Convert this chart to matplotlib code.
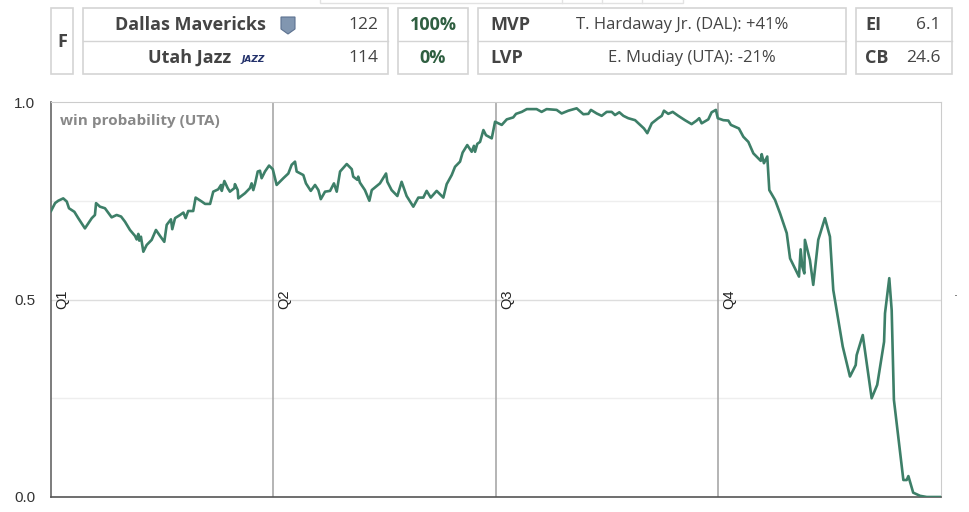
import matplotlib.pyplot as plt
from matplotlib.patches import Rectangle, Polygon

# game clock in minutes (0-48) and win probability for UTA
minutes = [0, 0.22, 0.39, 0.66, 0.85, 0.97, 1.26, 1.47, 1.83, 2.20, 2.37, 2.43, 2.64, 2.91,
           3.27, 3.54, 3.78, 3.99, 4.26, 4.53, 4.62, 4.71, 4.76, 4.85, 4.98, 5.16, 5.43,
           5.66, 5.88, 6.11, 6.24, 6.47, 6.54, 6.69, 6.96, 7.14, 7.26, 7.40, 7.67, 7.80,
           8.13, 8.31, 8.58, 8.75, 9.02, 9.17, 9.21, 9.35, 9.53, 9.65, 9.89, 9.92, 10.07,
           10.10, 10.46, 10.73, 10.82, 10.91, 11.00, 11.15, 11.27, 11.36, 11.54, 11.76, 11.96,
           12.17, 12.53, 12.80, 12.98, 13.16, 13.25, 13.61, 13.75, 14.01, 14.24, 14.42, 14.55,
           14.78, 15.05, 15.26, 15.41, 15.59, 15.95, 16.22, 16.30, 16.52, 16.57, 16.66, 16.93,
           17.17, 17.30, 17.74, 18.07, 18.14, 18.37, 18.68, 18.91, 19.18, 19.54, 19.81, 20.08,
           20.26, 20.48, 20.80, 21.16, 21.34, 21.61, 21.79, 22.06, 22.20, 22.45, 22.69, 22.81,
           22.87, 22.99, 23.14, 23.32, 23.46, 23.77,
           23.95, 24.31, 24.58, 24.93, 25.08, 25.39, 25.66, 26.19, 26.46, 26.73, 27.27, 27.54,
           27.90, 28.35, 28.71, 28.98, 29.12, 29.43, 29.70, 29.97, 30.24, 30.42, 30.65, 30.87,
           31.13, 31.50, 31.77, 31.98, 32.16, 32.40, 32.75, 32.94, 33.06, 33.29, 33.53, 33.83,
           34.19, 34.55, 34.82, 34.96, 35.09, 35.45, 35.63, 35.86,
           35.96, 36.26, 36.53, 36.67, 37.10, 37.34, 37.61, 37.88, 38.15, 38.28, 38.33, 38.45,
           38.63, 38.74, 39.05, 39.32, 39.68, 39.86, 40.34, 40.43, 40.52, 40.63, 40.66, 40.93,
           41.11, 41.38, 41.74, 42.01, 42.19, 42.70, 43.09, 43.40, 43.45, 43.78, 44.26, 44.56,
           44.93, 44.98, 45.21, 45.34, 45.46, 45.97, 46.15, 46.24, 46.50, 46.87, 47.23, 48.0]
win_prob = [0.724, 0.744, 0.750, 0.756, 0.748, 0.731, 0.722, 0.706, 0.680, 0.706, 0.714, 0.744,
            0.735, 0.731, 0.708, 0.714, 0.710, 0.697, 0.676, 0.661, 0.652, 0.666, 0.649, 0.659,
            0.621, 0.638, 0.651, 0.676, 0.661, 0.646, 0.689, 0.703, 0.678, 0.706, 0.714, 0.720,
            0.706, 0.724, 0.724, 0.758, 0.748, 0.742, 0.742, 0.773, 0.779, 0.790, 0.775, 0.800,
            0.782, 0.773, 0.782, 0.792, 0.777, 0.756, 0.769, 0.782, 0.794, 0.777, 0.792, 0.824,
            0.826, 0.807, 0.824, 0.839, 0.830,
            0.790, 0.807, 0.819, 0.841, 0.849, 0.824, 0.815, 0.794, 0.775, 0.790, 0.777, 0.754,
            0.773, 0.775, 0.794, 0.773, 0.824, 0.843, 0.830, 0.811, 0.803, 0.811, 0.796, 0.777,
            0.750, 0.777, 0.794, 0.819, 0.798, 0.777, 0.762, 0.798, 0.762, 0.735, 0.758, 0.758,
            0.775, 0.758, 0.775, 0.758, 0.792, 0.815, 0.836, 0.849, 0.872, 0.891, 0.874, 0.889,
            0.874, 0.894, 0.899, 0.929, 0.916, 0.908,
            0.950, 0.942, 0.956, 0.961, 0.970, 0.975, 0.982, 0.982, 0.975, 0.982, 0.980, 0.971,
            0.978, 0.984, 0.969, 0.970, 0.980, 0.971, 0.965, 0.975, 0.975, 0.967, 0.974, 0.965,
            0.959, 0.954, 0.942, 0.933, 0.921, 0.946, 0.959, 0.965, 0.978, 0.970, 0.975, 0.965,
            0.954, 0.944, 0.953, 0.959, 0.946, 0.956, 0.974, 0.980,
            0.959, 0.954, 0.953, 0.942, 0.933, 0.912, 0.899, 0.870, 0.857, 0.851, 0.868, 0.845,
            0.862, 0.777, 0.752, 0.718, 0.668, 0.604, 0.558, 0.627, 0.583, 0.566, 0.651, 0.600,
            0.537, 0.651, 0.706, 0.659, 0.524, 0.381, 0.305, 0.334, 0.359, 0.410, 0.250, 0.284,
            0.393, 0.465, 0.554, 0.473, 0.246, 0.043, 0.043, 0.053, 0.011, 0.003, 0.0, 0.0]

quarters = ["Q1", "Q2", "Q3", "Q4"]
quarter_start = [0, 12, 24, 36]

teams = ["Dallas Mavericks", "Utah Jazz"]
scores = ["122", "114"]
final_pct = ["100%", "0%"]
vp_labels = ["MVP", "LVP"]
vp_text = ["T. Hardaway Jr. (DAL): +41%", "E. Mudiay (UTA): -21%"]
stat_labels = ["EI", "CB"]
stat_values = ["6.1", "24.6"]

line_col = "#3d7f68"
txt = "#444444"
border = "#d4d4d4"

fig = plt.figure(figsize=(9.7, 5.12), dpi=100)

# ---- chart ----
ax = fig.add_axes([51 / 970, 15 / 512, 890 / 970, 395 / 512])
ax.plot(minutes, win_prob, color=line_col, lw=1.9, zorder=3)
ax.set_xlim(0, 48)
ax.set_ylim(0, 1)
ax.set_xticks([])
ax.set_yticks([0, 0.5, 1.0])
ax.set_yticklabels(["0.0", "0.5", "1.0"], family="Liberation Sans", fontsize=11, color="#333333")
ax.tick_params(axis="y", length=0, pad=11.5)
for g, c in [(0.25, "#eeeeee"), (0.5, "#dddddd"), (0.75, "#eeeeee")]:
    ax.axhline(g, color=c, lw=1, zorder=1)
for q, s in zip(quarters, quarter_start):
    if s > 0:
        ax.axvline(s, color="#a0a0a0", lw=1.1, zorder=2)
    ax.text(s + 0.22, 0.5, q, rotation=90, ha="left", va="center",
            family="Liberation Sans", fontsize=10.5, color="#222222", zorder=4)
ax.spines["left"].set_color("#666666")
ax.spines["bottom"].set_color("#555555")
ax.spines["left"].set_linewidth(1.2)
ax.spines["bottom"].set_linewidth(1.2)
ax.spines["top"].set_color("#cccccc")
ax.spines["right"].set_color("#cccccc")
ax.text(0.01, 0.953, "win probability (UTA)", transform=ax.transAxes, ha="left", va="center",
        family="Open Sans", fontweight="bold", fontsize=11, color="#888888")
ax.text(1.016, 0.5, ".", transform=ax.transAxes, ha="center", va="bottom",
        fontsize=9, color="#333333")

# ---- header (pixel coordinates) ----
hd = fig.add_axes([0, 0, 1, 1], zorder=-1)
hd.set_xlim(0, 970)
hd.set_ylim(512, 0)
hd.axis("off")


def box(x0, x1, y0=8, y1=74, split=True):
    hd.add_patch(Rectangle((x0, y0), x1 - x0, y1 - y0, fill=False, ec=border, lw=1.2))
    if split:
        hd.plot([x0, x1], [41, 41], color=border, lw=1)


# faint partial box at the very top
hd.add_patch(Rectangle((320, -2), 363, 5, fill=False, ec="#e2e2e2", lw=1))
for xv in [562, 602, 642]:
    hd.plot([xv, xv], [-2, 3], color="#e2e2e2", lw=1)

box(51, 73, split=False)
hd.text(62, 42, "F", ha="center", va="center", family="Open Sans", fontweight="bold",
        fontsize=13, color=txt)

box(83, 388)
box(398, 468)
box(478, 846)
box(856, 952)

rows_y = [25, 58]
name_right = [266, 231]
for i in range(2):
    y = rows_y[i]
    hd.text(name_right[i], y, teams[i], ha="right", va="center", family="Open Sans",
            fontweight="bold", fontsize=13, color=txt)
    hd.text(378, y, scores[i], ha="right", va="center", family="Open Sans",
            fontsize=12.5, color=txt)
    hd.text(433, y, final_pct[i], ha="center", va="center", family="Open Sans",
            fontweight="bold", fontsize=13, color="#2f5f41")
    hd.text(490, y, vp_labels[i], ha="left", va="center", family="Open Sans",
            fontweight="bold", fontsize=13, color=txt)
    hd.text(865, y, stat_labels[i], ha="left", va="center", family="Open Sans",
            fontweight="bold", fontsize=13, color=txt)
    hd.text(941, y, stat_values[i], ha="right", va="center", family="Open Sans",
            fontsize=12.5, color=txt)
hd.text(682, 25, vp_text[0], ha="center", va="center", family="Open Sans", fontsize=12, color=txt)
hd.text(692, 58, vp_text[1], ha="center", va="center", family="Open Sans", fontsize=12, color=txt)

# small logo stand-ins
hd.add_patch(Polygon([[281, 17], [295, 17], [295, 29], [288, 34], [281, 29]],
                     closed=True, fc="#8196b0", ec="#5d7290", lw=0.8))
hd.text(253, 59, "JAZZ", ha="center", va="center", family="DejaVu Sans", fontweight="bold",
        fontstyle="italic", fontsize=6.5, color="#23316b")

fig.savefig("out.png", dpi=100)
